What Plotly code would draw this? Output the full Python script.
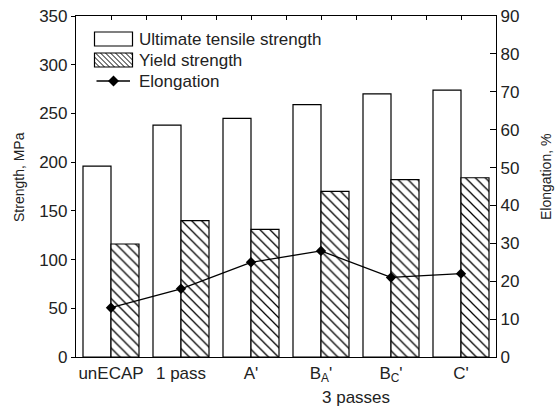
import plotly.graph_objects as go

categories = ["unECAP", "1 pass", "A'", "B<sub>A</sub>'", "B<sub>C</sub>'", "C'"]
uts = [196, 238, 245, 259, 270, 274]
yield_strength = [116, 140, 131, 170, 182, 184]
elongation = [13, 18, 25, 28, 21, 22]
legend_names = ["Ultimate tensile strength", "Yield strength", "Elongation"]

FONT = "Liberation Sans, Arial, sans-serif"
W, H = 555, 411
ML, MR, MT, MB = 76, 59, 16, 54
PW, PH = W - ML - MR, H - MT - MB


def px(x):
    return (x - ML) / PW


def py(y):
    return (H - MB - y) / PH


fig = go.Figure()
fig.add_trace(go.Bar(
    x=categories, y=uts, name=legend_names[0],
    marker=dict(color="white", line=dict(color="black", width=1.2)),
    yaxis="y", xaxis="x"))
fig.add_trace(go.Bar(
    x=categories, y=yield_strength, name=legend_names[1],
    marker=dict(color="white", line=dict(color="black", width=1.2),
                pattern=dict(shape="\\", fgcolor="black", bgcolor="white",
                             size=7, solidity=0.18, fillmode="replace")),
    yaxis="y", xaxis="x"))
fig.add_trace(go.Scatter(
    x=categories, y=elongation, name=legend_names[2], mode="lines+markers",
    line=dict(color="black", width=1.3),
    marker=dict(symbol="diamond", size=8, color="black"),
    yaxis="y2", xaxis="x"))
# invisible helper trace to host the top axis
fig.add_trace(go.Scatter(x=[0], y=[0], xaxis="x2", yaxis="y", mode="markers",
                         marker=dict(opacity=0), showlegend=False, hoverinfo="skip"))

fig.update_layout(
    width=W, height=H,
    margin=dict(l=ML, r=MR, t=MT, b=MB, autoexpand=False),
    paper_bgcolor="white", plot_bgcolor="white",
    font=dict(family=FONT, size=17, color="#222"),
    barmode="group", bargap=0.2, bargroupgap=0,
    showlegend=False,
    xaxis=dict(type="category", range=[-0.5, 5.5], showline=True, linecolor="black",
               linewidth=1.2, ticks="", showgrid=False, zeroline=False,
               tickfont=dict(size=17), automargin=False),
    xaxis2=dict(overlaying="x", side="top", anchor="y", range=[-0.5, 5.5],
                showline=True, linecolor="black", linewidth=1.2, ticks="inside",
                ticklen=4, tickcolor="black", dtick=0.5, tick0=-0.5, showticklabels=False,
                showgrid=False, zeroline=False, automargin=False),
    yaxis=dict(range=[0, 350], dtick=50, showline=True, linecolor="black", linewidth=1.2,
               ticks="outside", ticklen=4, tickcolor="black", showgrid=False,
               zeroline=False, tickfont=dict(size=17), automargin=False),
    yaxis2=dict(range=[0, 90], dtick=10, overlaying="y", side="right", anchor="x",
                showline=True, linecolor="black", linewidth=1.2, ticks="inside",
                ticklen=6, tickcolor="black", showgrid=False, zeroline=False,
                tickfont=dict(size=17), automargin=False),
)

# axis titles
fig.add_annotation(text="Strength, MPa", xref="paper", yref="paper", x=px(19), y=py(177),
                   textangle=-90, showarrow=False, xanchor="center", yanchor="middle",
                   font=dict(size=14, family=FONT))
fig.add_annotation(text="Elongation, %", xref="paper", yref="paper", x=px(546), y=py(177),
                   textangle=-90, showarrow=False, xanchor="center", yanchor="middle",
                   font=dict(size=14, family=FONT))
fig.add_annotation(text="3 passes", x=3.5, xref="x", y=py(398), yref="paper",
                   showarrow=False, yanchor="middle", font=dict(size=17, family=FONT))

# custom legend
bx0, bx1 = 94.5, 132.5
rows = [39, 60, 81]
shapes = []
# box 1: open rectangle
shapes.append(dict(type="rect", xref="paper", yref="paper", x0=px(bx0), x1=px(bx1),
                   y0=py(rows[0] + 7), y1=py(rows[0] - 7),
                   line=dict(color="black", width=1.2), fillcolor="white"))
# box 2: hatched rectangle
t, b = rows[1] - 7, rows[1] + 7
hx = bx0 - (b - t)
while hx < bx1:
    x_start, y_start = hx, t
    x_end, y_end = hx + (b - t), b
    if x_start < bx0:
        y_start = t + (bx0 - x_start)
        x_start = bx0
    if x_end > bx1:
        y_end = b - (x_end - bx1)
        x_end = bx1
    if x_end > x_start:
        shapes.append(dict(type="line", xref="paper", yref="paper",
                           x0=px(x_start), y0=py(y_start), x1=px(x_end), y1=py(y_end),
                           line=dict(color="black", width=1)))
    hx += 5
shapes.append(dict(type="rect", xref="paper", yref="paper", x0=px(bx0), x1=px(bx1),
                   y0=py(b), y1=py(t), line=dict(color="black", width=1.2)))
# line + diamond
shapes.append(dict(type="line", xref="paper", yref="paper", x0=px(96.5), x1=px(130),
                   y0=py(rows[2]), y1=py(rows[2]), line=dict(color="black", width=1.3)))
cx, cy, r = 113.5, rows[2], 5.5
shapes.append(dict(type="path", xref="paper", yref="paper",
                   path=(f"M{px(cx)},{py(cy - r)} L{px(cx + r)},{py(cy)} "
                         f"L{px(cx)},{py(cy + r)} L{px(cx - r)},{py(cy)} Z"),
                   fillcolor="black", line=dict(color="black", width=0)))
fig.update_layout(shapes=shapes)

for name, ry in zip(legend_names, rows):
    fig.add_annotation(text=name, xref="paper", yref="paper", x=px(137), y=py(ry),
                       xanchor="left", yanchor="middle", showarrow=False,
                       font=dict(size=17, family=FONT))

fig.write_html("out.html")
